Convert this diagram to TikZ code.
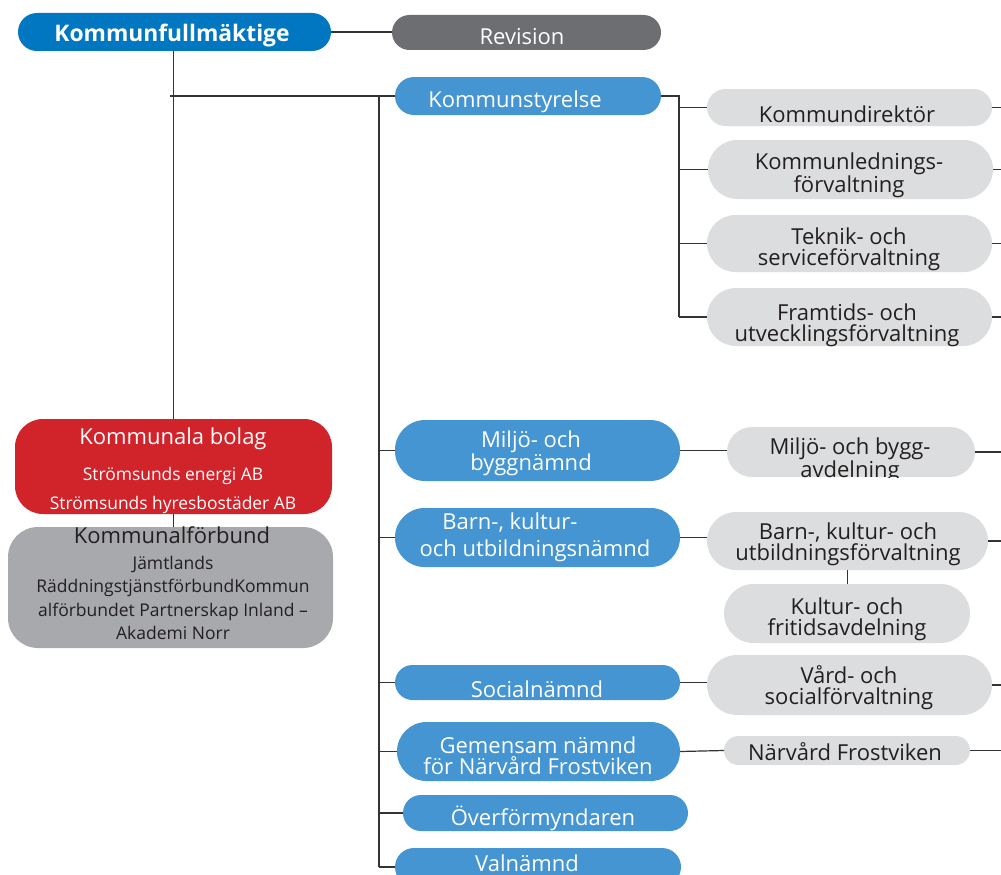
\documentclass[tikz,border=0pt]{standalone}
\usepackage{fontspec}
\setmainfont{Open Sans}
\definecolor{kfblue}{HTML}{0077C0}
\definecolor{nblue}{HTML}{4495D1}
\definecolor{revgray}{HTML}{6D6E71}
\definecolor{lightg}{HTML}{DCDDDE}
\definecolor{bolagred}{HTML}{D1232A}
\definecolor{midg}{HTML}{A7A9AC}
\definecolor{linec}{HTML}{333333}
\definecolor{darktext}{HTML}{231F20}
\begin{document}
\begin{tikzpicture}[x=1pt,y=-1pt,
  boxbase/.style={draw=none,inner sep=0pt,outer sep=0pt},
  bluebox/.style={boxbase,fill=nblue},
  greybox/.style={boxbase,fill=lightg},
  ln/.style={draw=linec,line width=1.2pt},
  wt/.style={text=white,align=center,inner sep=0pt,font=\fontsize{22}{21}\selectfont},
  dt/.style={text=darktext,align=center,inner sep=0pt,font=\fontsize{22}{21}\selectfont},
  wsmall/.style={text=white,align=center,inner sep=0pt,font=\fontsize{17.4}{23.3}\selectfont},
  dsmall/.style={text=darktext,align=center,inner sep=0pt,font=\fontsize{17.5}{23.3}\selectfont}]
\useasboundingbox (0,0) rectangle (1001,875);
\fill[white] (0,0) rectangle (1001,875);
% top level
\node[boxbase,fill=kfblue,minimum width=313pt,minimum height=38pt,rounded corners=19pt] (kf) at (174.5,32) {};
\node[wt,font=\fontsize{22.8}{19}\selectfont\bfseries] (kft) at (172,36) {Kommunfullmäktige};
\node[boxbase,fill=revgray,minimum width=269pt,minimum height=35pt,rounded corners=17.5pt] (rev) at (526.5,32.5) {};
\node[wt] (revt) at (522,37) {Revision};
\node[bluebox,minimum width=266pt,minimum height=38pt,rounded corners=19pt] (ks) at (528,96) {};
\node[wt] (kst) at (515,102) {Kommunstyrelse};
% kommunstyrelse children
\node[greybox,minimum width=285pt,minimum height=37pt,rounded corners=18.5pt] (kd) at (849.5,107.5) {};
\node[dt] (kdt) at (847,114) {Kommundirektör};
\node[greybox,minimum width=285pt,minimum height=59pt,rounded corners=29.5pt] (kl) at (850.5,169.5) {};
\node[dt] (klt) at (849,175) {Kommunlednings-\\förvaltning};
\node[greybox,minimum width=285pt,minimum height=57pt,rounded corners=28.5pt] (tk) at (849.5,243.5) {};
\node[dt] (tkt) at (849,249) {Teknik- och\\serviceförvaltning};
\node[greybox,minimum width=285pt,minimum height=58pt,rounded corners=29pt] (fu) at (849.5,317) {};
\node[dt] (fut) at (847,325) {Framtids- och\\utvecklingsförvaltning};
% left boxes
\node[boxbase,fill=bolagred,minimum width=317pt,minimum height=95pt,rounded corners=28pt] (kb) at (173.5,466.5) {};
\node[wt] (kbt1) at (173,439) {Kommunala bolag};
\node[wsmall] (kbt2) at (173,476) {Strömsunds energi AB};
\node[wsmall] (kbt3) at (173,505) {Strömsunds hyresbostäder AB};
\node[boxbase,fill=midg,minimum width=325pt,minimum height=121pt,rounded corners=30pt] (kfb) at (170.5,587.5) {};
\node[dt] (kfbt1) at (172,535) {Kommunalförbund};
\node[dsmall] (kfbt2) at (173,598) {Jämtlands\\RäddningstjänstförbundKommun\\alförbundet Partnerskap Inland –\\Akademi Norr};
% nämnder
\node[bluebox,minimum width=285pt,minimum height=61pt,rounded corners=30pt] (mb) at (537.5,450.5) {};
\node[wt] (mbt) at (531,453) {Miljö- och\\byggnämnd};
\node[greybox,minimum width=248pt,minimum height=50pt,rounded corners=25pt] (mba) at (851,452) {};
\begin{scope}
\clip (727,420) rectangle (975,477);
\node[dt] (mbat) at (850,460) {Miljö- och bygg-\\avdelning};
\end{scope}
\node[bluebox,minimum width=285pt,minimum height=59pt,rounded corners=29.5pt] (bkn) at (537.5,537.5) {};
\node[wt] (bknt1) at (510,523) {Barn-, kultur-};
\node[wt] (bknt2) at (535,551) {och utbildningsnämnd};
\node[greybox,minimum width=281pt,minimum height=58pt,rounded corners=29pt] (bkf) at (847.5,541) {};
\node[dt] (bkft) at (848,544) {Barn-, kultur- och\\utbildningsförvaltning};
\node[greybox,minimum width=246pt,minimum height=59pt,rounded corners=29.5pt] (kfa) at (847,613.5) {};
\node[dt] (kfat) at (847,619) {Kultur- och\\fritidsavdelning};
\node[bluebox,minimum width=285pt,minimum height=35pt,rounded corners=17.5pt] (soc) at (537.5,682.5) {};
\node[wt] (soct) at (537,689) {Socialnämnd};
\node[greybox,minimum width=285pt,minimum height=60pt,rounded corners=30pt] (vs) at (849.5,685) {};
\node[dt] (vst) at (849,688) {Vård- och\\socialförvaltning};
\node[bluebox,minimum width=283pt,minimum height=59pt,rounded corners=29.5pt] (gn) at (538.5,751.5) {};
\node[wt] (gnt) at (538,756) {Gemensam nämnd\\för Närvård Frostviken};
\node[greybox,minimum width=246pt,minimum height=29pt,rounded corners=14.5pt] (nf) at (847,750.5) {};
\node[dt] (nft) at (845,752) {Närvård Frostviken};
\node[bluebox,minimum width=285pt,minimum height=36pt,rounded corners=18pt] (of) at (545.5,813) {};
\node[wt] (oft) at (543,818) {Överförmyndaren};
\node[bluebox,minimum width=286pt,minimum height=38pt,rounded corners=19pt] (vn) at (538,867) {};
\node[wt] (vnt) at (527,863) {Valnämnd};
% connectors
\coordinate (j0) at (170,96);
\coordinate (t1) at (379,96);
\coordinate (t2) at (379,867);
\coordinate (s1) at (679,96);
\coordinate (s2) at (679,317);
\coordinate (edge) at (1001,0);
\draw[ln] (kf.east) -- (kf.east -| rev.west);
\draw[ln] (kf.south -| kb.north) -- (kb.north);
\draw[ln] (kb.south) -- (kb.south |- kfb.north);
\draw[ln] (j0) -- (ks.west);
\draw[ln] (t1) -- (t2);
\draw[ln] (t1 |- mb.west) -- (mb.west);
\draw[ln] (t1 |- bkn.west) -- (bkn.west);
\draw[ln] (t1 |- soc.west) -- (soc.west);
\draw[ln] (t1 |- gn.west) -- (gn.west);
\draw[ln] (t1 |- of.west) -- (of.west);
\draw[ln] (t2) -- (vn.west);
\draw[ln] (ks.east) -- (s1) -- (s2);
\draw[ln] (s1 |- kd.west) -- (kd.west);
\draw[ln] (s1 |- kl.west) -- (kl.west);
\draw[ln] (s1 |- tk.west) -- (tk.west);
\draw[ln] (s2) -- (fu.west);
\draw[ln] (kd.east) -- (kd.east -| edge);
\draw[ln] (kl.east) -- (kl.east -| edge);
\draw[ln] (tk.east) -- (tk.east -| edge);
\draw[ln] (fu.east) -- (fu.east -| edge);
\draw[ln] (mb.east) -- (mb.east -| mba.west);
\draw[ln] (mba.east) -- (mba.east -| edge);
\draw[ln] (bkn.east) -- (bkn.east -| bkf.west);
\draw[ln] (bkf.east) -- (bkf.east -| edge);
\draw[ln] (bkf.south) -- (bkf.south |- kfa.north);
\draw[ln] (soc.east) -- (soc.east -| vs.west);
\draw[ln] (vs.east) -- (vs.east -| edge);
\draw[ln] (gn.east) -- (nf.west);
\draw[ln] (nf.east) -- (nf.east -| edge);
\end{tikzpicture}
\end{document}
